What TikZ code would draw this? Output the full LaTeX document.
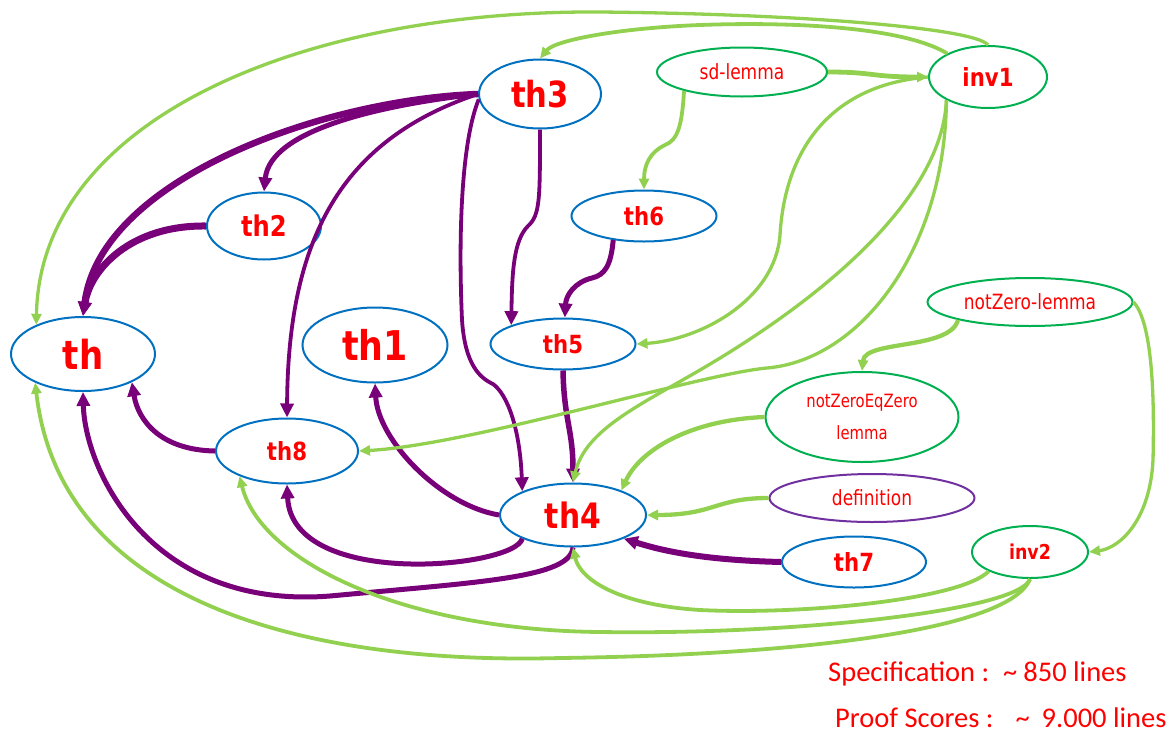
\documentclass[tikz,border=0pt]{standalone}
\usepackage{fontspec}
\usetikzlibrary{arrows.meta,shapes.geometric}
\newfontfamily\thfont[FakeStretch=0.85]{DejaVu Sans}
\newfontfamily\lemfont[FakeStretch=0.81]{DejaVu Sans}
\newfontfamily\notefont{Carlito}
\definecolor{thblue}{RGB}{0,112,192}
\definecolor{lemgreen}{RGB}{0,176,80}
\definecolor{defpurple}{RGB}{112,48,160}
\definecolor{deppurple}{RGB}{120,0,120}
\definecolor{usegreen}{RGB}{146,208,80}
\newcommand{\nsize}[1]{\fontsize{#1}{#1}\selectfont}
\tikzset{
  thm/.style={ellipse, draw=thblue, line width=2pt, text=red, inner sep=0pt, font=\thfont\bfseries},
  lem/.style={thm, draw=lemgreen, font=\lemfont},
  inv/.style={thm, draw=lemgreen},
  esize/.style 2 args={minimum width=#1pt, minimum height=#2pt},
  pdep/.style={draw=deppurple, line width=5pt, -{Triangle[length=14pt,width=13pt]}},
  guse/.style={draw=usegreen, line width=3.3pt, -{Triangle[length=11pt,width=10pt]}},
  note/.style={anchor=base west, text=red, inner sep=0pt, font=\notefont\nsize{28.5}}
}

\begin{document}
\begin{tikzpicture}[x=1pt, y=-1pt]
\useasboundingbox (0,0) rectangle (1170,734);
\node[thm, esize={144}{74}] (th) at (83,354) {\nsize{40}th};
\node[thm, esize={145}{75}] (th1) at (375,345) {\nsize{41}th1};
\node[thm, esize={114}{67}] (th2) at (264,226) {\nsize{28.5}th2};
\node[thm, esize={122}{69}] (th3) at (540,94) {\nsize{36}th3};
\node[thm, esize={146}{63}] (th4) at (573,515) {\nsize{35}th4};
\node[thm, esize={145}{51}] (th5) at (563,344) {\nsize{25}th5};
\node[thm, esize={145}{51}] (th6) at (644,216) {\nsize{25}th6};
\node[thm, esize={144}{51}] (th7) at (854,562) {\nsize{25}th7};
\node[thm, esize={142}{65}] (th8) at (287,451) {\nsize{25}th8};
\node[lem, esize={170}{49}] (sdlemma) at (742,72) {\nsize{21}sd-lemma};
\node[inv, esize={118}{62}] (inv1) at (988,77) {\nsize{25}inv1};
\node[lem, esize={205}{48}] (nzlemma) at (1030,302) {\nsize{21}notZero-lemma};
\node[lem, esize={193}{90}, align=center, font=\lemfont\fontsize{18.3}{32}\selectfont] (nzeq) at (862,417) {notZeroEqZero\\lemma};
\node[lem, draw=defpurple, esize={205}{48}] (defn) at (872,498) {\nsize{21}definition};
\node[inv, esize={116}{52}] (inv2) at (1030,552) {\nsize{20.5}inv2};

\draw[pdep, line width=6.5pt] (th3.west) .. controls (320,100) and (100,180) .. (th.north);
\draw[pdep] (th3.west) .. controls (380,105) and (270,130) .. (th2.north);
\draw[pdep, line width=7pt] (th2.west) .. controls (130,225) and (90,270) .. (th.north);
\draw[pdep, line width=3.8pt] (th3.west) .. controls (340,140) and (288,240) .. (th8.north);
\draw[pdep, line width=3.8pt] (th3.185) .. controls (462,140) and (458,230) .. (462,320) .. controls (465,365) and (480,378) .. (493,384) .. controls (508,395) and (520,430) .. (th4.155);
\draw[pdep, line width=3.8pt] (th3.south) .. controls (540,200) and (540,215) .. (528,226) .. controls (514,240) and (512,270) .. (th5.160);
\draw[pdep] (th6.218) .. controls (611,265) and (605,275) .. (592,278) .. controls (575,282) and (566,295) .. (th5.86);
\draw[pdep, line width=5.5pt] (th5.south) .. controls (564,420) and (573,430) .. (th4.north);
\draw[pdep] (th4.west) .. controls (440,505) and (378,440) .. (th1.south);
\draw[pdep] (th4.205) .. controls (515,568) and (292,590) .. (th8.south);
\draw[pdep] (th4.south) .. controls (570,578) and (480,582) .. (330,596) .. controls (150,610) and (85,470) .. (th.south);
\draw[pdep] (th8.west) .. controls (160,450) and (138,420) .. (th.330);
\draw[pdep, line width=6pt] (th7.west) .. controls (700,560) and (660,550) .. (th4.335);

\draw[guse] (inv1.north) .. controls (975,28) and (800,14) .. (600,12) .. controls (300,10) and (40,120) .. (th.148);
\draw[guse, line width=3.8pt] (inv1.150) .. controls (900,25) and (780,22) .. (700,25) .. controls (620,28) and (555,40) .. (th3.north);
\draw[guse, line width=4.8pt] (sdlemma.east) .. controls (875,72) and (870,77) .. (inv1.west);
\draw[guse, line width=3.8pt] (sdlemma.198) .. controls (682,125) and (678,140) .. (665,145) .. controls (650,152) and (644,165) .. (th6.north);
\draw[guse] (inv1.west) .. controls (830,85) and (785,150) .. (780,235) .. controls (775,300) and (700,340) .. (th5.east);
\draw[guse] (inv1.209) .. controls (942,200) and (820,300) .. (700,370) .. controls (640,405) and (585,430) .. (th4.north);
\draw[guse] (inv1.209) .. controls (945,250) and (860,360) .. (767,368) .. controls (700,374) and (470,445) .. (th8.east);
\draw[guse, line width=4.3pt] (nzlemma.194) .. controls (950,350) and (865,340) .. (nzeq.north);
\draw[guse] (nzlemma.east) .. controls (1150,320) and (1155,380) .. (1153,460) .. controls (1150,520) and (1120,548) .. (inv2.east);
\draw[guse, line width=4.3pt] (nzeq.west) .. controls (690,420) and (640,450) .. (th4.27);
\draw[guse, line width=4.3pt] (defn.west) .. controls (715,498) and (715,515) .. (th4.east);
\draw[guse, line width=3.8pt] (inv2.205) .. controls (960,600) and (800,615) .. (700,610) .. controls (620,605) and (580,580) .. (th4.south);
\draw[guse, line width=3.8pt] (inv2.south) .. controls (1020,610) and (800,635) .. (600,632) .. controls (400,630) and (260,560) .. (th8.208);
\draw[guse, line width=3.8pt] (inv2.south) .. controls (1010,630) and (800,655) .. (560,658) .. controls (300,665) and (60,600) .. (th.211);

\node[note] (spec) at (828,681) {Specification :\hspace{14pt}\textasciitilde\hspace{6pt}850 lines};
\node[note] (proof) at (835,727) {Proof Scores :\hspace{22pt}\textasciitilde\hspace{12pt}9.000 lines};
\end{tikzpicture}
\end{document}
